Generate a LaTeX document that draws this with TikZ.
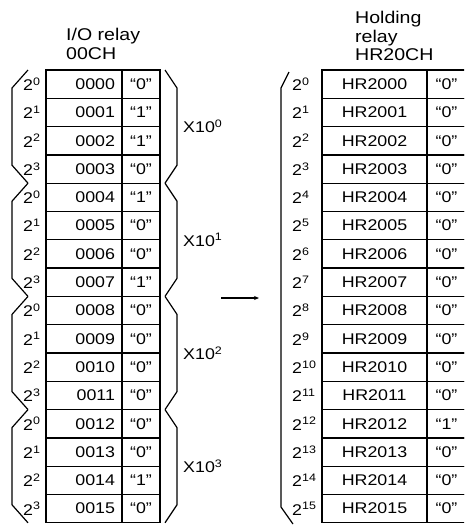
\documentclass[tikz,border=0pt]{standalone}
\usepackage{fontspec}
\setmainfont[FakeStretch=1.15]{Liberation Sans}
\usetikzlibrary{arrows.meta}

% two digit channel numbers
\newcommand{\twod}[1]{\ifnum#1<10 0\fi#1}

\tikzset{
  cell/.style={draw, line width=1.3pt, minimum height=28.3pt, inner sep=0pt,
    font=\fontsize{15.5}{17}\selectfont},
  addr/.style={cell, minimum width=76pt, text width=62pt, align=right},
  val/.style={cell, minimum width=38pt},
  hraddr/.style={cell, minimum width=105pt},
  hrval/.style={cell, minimum width=39pt},
  bit/.style={anchor=west, inner sep=0pt, font=\fontsize{15.5}{17}\selectfont},
  head/.style={anchor=north west, align=left, inner sep=0pt,
    font=\fontsize{17}{18.5}\selectfont},
  brace/.style={line width=1.2pt, line join=miter}
}

\begin{document}
\begin{tikzpicture}[x=1pt, y=-1pt]
    \useasboundingbox (0,0) rectangle (464,525);
    \clip (0,0) rectangle (464,525);
    % Headings
    \node[head] (iohead) at (66,28) {I/O relay\\00CH};
    \node[head] (hrhead) at (355,11) {Holding\\relay\\HR20CH};
    % I/O relay table
    \foreach \v [count=\i from 0] in {0,1,1,0,1,0,0,1,0,0,0,0,0,0,1,0} {
        \pgfmathtruncatemacro\b{mod(\i,4)}
        \node[addr] (io\i) at (84,84.15+28.3*\i) {00\twod{\i}};
        \node[val] (iov\i) at (141,84.15+28.3*\i) {``\v''};
        \node[bit] (iob\i) at (23,84.15+28.3*\i) {2\textsuperscript{\b}};
    }
    % Digit groups
    \foreach \g in {0,...,3} {
        \pgfmathsetmacro\ya{70+113.2*\g}
        \pgfmathsetmacro\yb{\ya+113.2}
        \draw[brace] (28,\ya) -- (12,\ya+18) -- (12,\yb-18) -- (28,\yb);
        \draw[brace] (165,\ya) -- (177,\ya+18) -- (177,\yb-18) -- (165,\yb);
        \node[bit] (dec\g) at (183,\ya+56.6) {X10\textsuperscript{\g}};
    }
    % Conversion arrow
    \coordinate (arrA) at (221,298);
    \coordinate (arrB) at (259,298);
    \draw[line width=1.3pt, -{Stealth[length=5pt,width=4pt]}] (arrA) -- (arrB);
    % Holding relay table
    \foreach \v [count=\i from 0] in {0,0,0,0,0,0,0,0,0,0,0,0,1,0,0,0} {
        \node[hraddr] (hr\i) at (374.5,84.15+28.3*\i) {HR20\twod{\i}};
        \node[hrval] (hrv\i) at (446.5,84.15+28.3*\i) {``\v''};
        \node[bit] (hrb\i) at (292,84.15+28.3*\i) {2\textsuperscript{\i}};
    }
    \draw[brace] (289,72) -- (281,88) -- (281,507) -- (293,524);
\end{tikzpicture}
\end{document}
